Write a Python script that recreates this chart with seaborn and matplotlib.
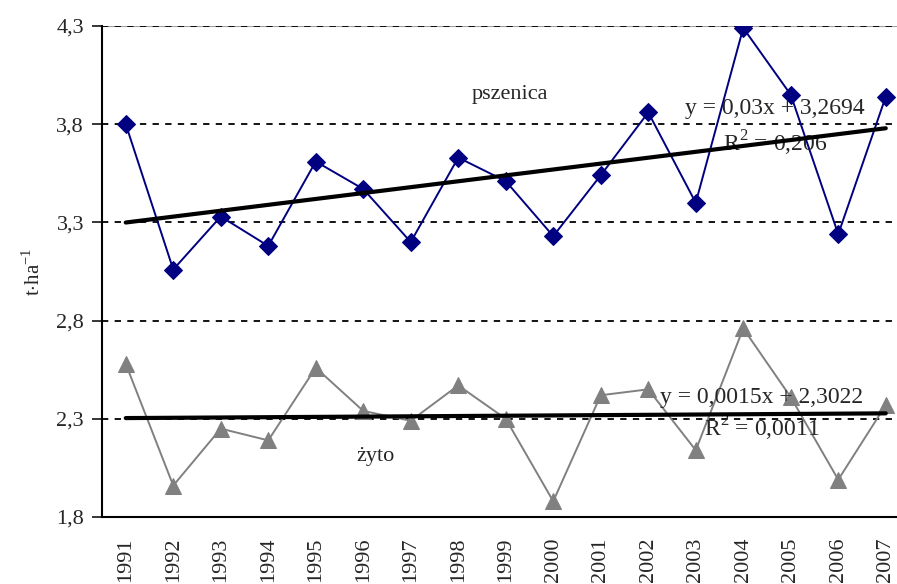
import matplotlib
matplotlib.use("Agg")
import matplotlib.pyplot as plt
import seaborn as sns
import pandas as pd
import numpy as np

years = list(range(1991, 2008))
pszenica = [3.80, 3.06, 3.33, 3.18, 3.61, 3.47, 3.20, 3.63, 3.51, 3.23,
            3.54, 3.86, 3.40, 4.29, 3.95, 3.24, 3.94]
zyto = [2.58, 1.96, 2.25, 2.19, 2.56, 2.34, 2.29, 2.47, 2.30, 1.88,
        2.42, 2.45, 2.14, 2.76, 2.41, 1.99, 2.37]

# linear trends (x = 1..17)
trend_pszenica = (0.03, 3.2694)
trend_zyto = (0.0015, 2.3022)

y_ticks = [1.8, 2.3, 2.8, 3.3, 3.8, 4.3]
y_tick_labels = ["1,8", "2,3", "2,8", "3,3", "3,8", "4,3"]

sns.set_style("white")
plt.rcParams["font.family"] = ["Liberation Serif", "DejaVu Serif"]
plt.rcParams["mathtext.fontset"] = "custom"
plt.rcParams["mathtext.rm"] = "Liberation Serif"

fig = plt.figure(figsize=(8.97, 5.84), dpi=100)
ax = fig.add_axes([102 / 897, 1 - 517 / 584, 807.5 / 897, 491 / 584])

df = pd.DataFrame({"rok": years * 2,
                   "plon": pszenica + zyto,
                   "zboze": ["pszenica"] * len(years) + ["żyto"] * len(years)})

# gridlines
ax.axhline(4.3, color="#a0a0a0", lw=1.5, zorder=1)
for t in y_ticks[1:]:
    ax.axhline(t, color="black", lw=1.3, ls=(0, (3.5, 3.5)), zorder=1)

sns.lineplot(data=df[df.zboze == "pszenica"], x="rok", y="plon", ax=ax,
             color="#000080", lw=1.4, marker="D", markersize=9,
             markeredgecolor="#000080", legend=False, zorder=3)
sns.lineplot(data=df[df.zboze == "żyto"], x="rok", y="plon", ax=ax,
             color="#808080", lw=1.4, marker="^", markersize=11,
             markeredgecolor="#808080", legend=False, zorder=3)

xi = np.arange(1, len(years) + 1)
for (a, b) in (trend_pszenica, trend_zyto):
    tr = pd.DataFrame({"rok": years, "plon": a * xi + b})
    sns.lineplot(data=tr, x="rok", y="plon", ax=ax, color="black", lw=3,
                 legend=False, zorder=4)

ax.set_xlim(1990.5, 2007.5)
ax.set_ylim(1.8, 4.3)
ax.set_yticks(y_ticks)
ax.set_yticklabels(y_tick_labels, fontsize=16)
ax.set_xticks(years)
ax.set_xticklabels([str(y) for y in years], rotation=90, fontsize=16)
ax.set_xticks(np.arange(1990.5, 2008, 1), minor=True)
ax.tick_params(axis="x", which="major", length=0, pad=15)
ax.tick_params(axis="x", which="minor", length=7, width=1.3, direction="out")
ax.tick_params(axis="y", length=7, width=1.3, direction="out", left=True, pad=6)

for s in ("top", "right"):
    ax.spines[s].set_visible(False)
for s in ("left", "bottom"):
    ax.spines[s].set_color("black")
    ax.spines[s].set_linewidth(1.5)

ax.set_xlabel("")
ax.set_ylabel(r"t$\cdot$ha$^{-1}$", fontsize=15, labelpad=8)

ax.text(1999.09, 3.95, "pszenica", ha="center", va="center", fontsize=16)
ax.text(1996.25, 2.11, "żyto", ha="center", va="center", fontsize=16)
ax.text(2004.67, 3.88, "y = 0,03x + 3,2694", ha="center", va="center", fontsize=17)
ax.text(2004.67, 3.70, r"R$^2$ = 0,206", ha="center", va="center", fontsize=17)
ax.text(2004.39, 2.41, "y = 0,0015x + 2,3022", ha="center", va="center", fontsize=17)
ax.text(2004.39, 2.25, r"R$^2$ = 0,0011", ha="center", va="center", fontsize=17)

fig.savefig("out.png", dpi=100)
